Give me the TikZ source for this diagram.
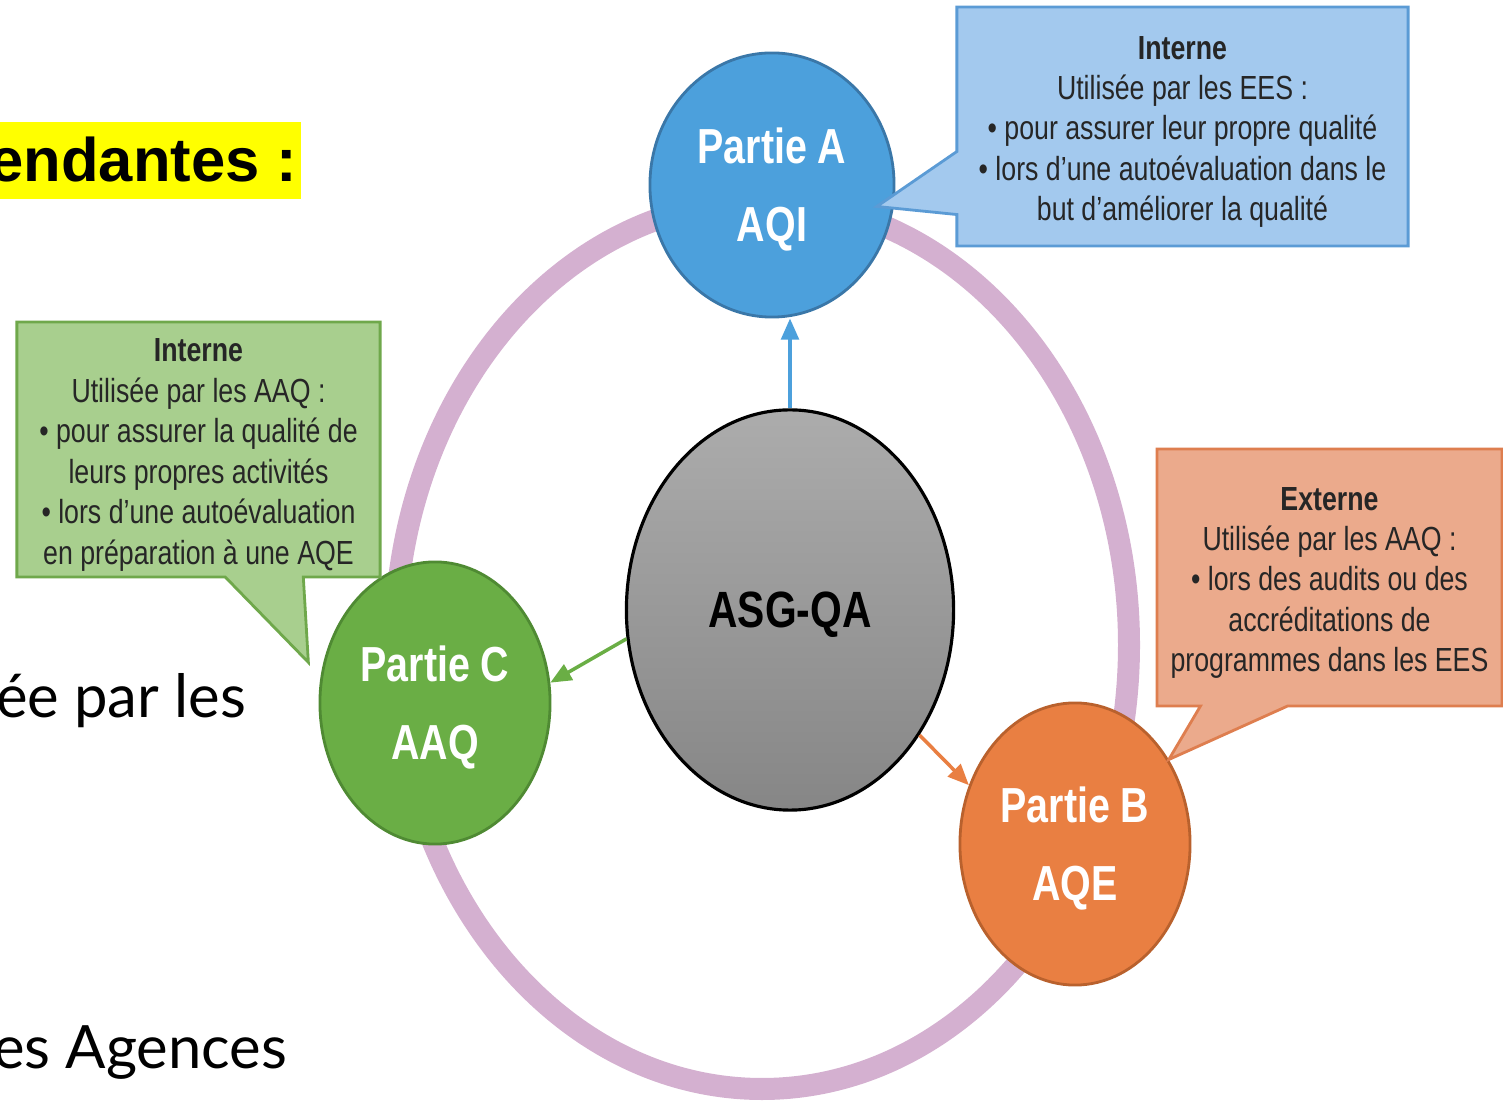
\documentclass[tikz,border=0pt]{standalone}
\usepackage{fontspec}
\setmainfont{Liberation Sans}
\newfontfamily\narrowfont[FakeStretch=0.8]{Liberation Sans}
\newfontfamily\slidefont{Lato}
\usetikzlibrary{shapes.geometric, shapes.callouts, arrows.meta}

\definecolor{hlyellow}{HTML}{FFFF00}
\definecolor{ringlilac}{HTML}{D4B0D0}
\definecolor{asgtop}{HTML}{ACACAC}
\definecolor{asgbottom}{HTML}{868686}
\definecolor{partblue}{HTML}{4CA0DC}
\definecolor{partblueline}{HTML}{3A77A8}
\definecolor{partgreen}{HTML}{6AAE45}
\definecolor{partgreenline}{HTML}{4F8A33}
\definecolor{partorange}{HTML}{E97F42}
\definecolor{partorangeline}{HTML}{B9612D}
\definecolor{noteblue}{HTML}{A3C9EE}
\definecolor{noteblueline}{HTML}{5B9BD5}
\definecolor{notegreen}{HTML}{A8CF8E}
\definecolor{notegreenline}{HTML}{6FA84B}
\definecolor{noteorange}{HTML}{EBAA8C}
\definecolor{noteorangeline}{HTML}{DE7E4F}
\definecolor{notetext}{HTML}{262626}

% struts that push the first line down a little
\newcommand{\notestrut}{\rule{0pt}{9.6pt}}
\newcommand{\partstrut}{\rule{0pt}{12.8pt}}

\begin{document}
\begin{tikzpicture}[
        x=0.01cm, y=-0.01cm,
        slide/.style={anchor=base east, inner sep=0pt},
        part/.style={ellipse, draw, line width=0.8pt, text=white, align=center, inner sep=0pt,
            font=\narrowfont\bfseries\fontsize{14}{22}\selectfont},
        note/.style={rectangle callout, draw, line width=0.8pt, align=center, inner sep=0pt,
            text=notetext, font=\narrowfont\fontsize{9.5}{11.5}\selectfont},
        link/.style={-{Triangle[length=6pt, width=5pt]}, line width=1pt}
    ]
        \useasboundingbox (0,0) rectangle (1503,1104);
        \clip (0,0) rectangle (1503,1104);

        % Slide text behind the diagram
        \fill[hlyellow] (0,122) rectangle (301,199);
        \node[slide, font=\bfseries\fontsize{17.5}{20}\selectfont] (title) at (298,182) {endantes :};
        \node[slide, font=\slidefont\fontsize{17}{20}\selectfont] (textA) at (247,718) {ée par les};
        \node[slide, font=\slidefont\fontsize{17}{20}\selectfont] (textB) at (288,1068) {es Agences};

        % Ring
        \draw[ringlilac, line width=0.22cm] (762,645) ellipse [x radius=367, y radius=444];

        % Center
        \node[ellipse, draw=black, line width=0.9pt, top color=asgtop, bottom color=asgbottom,
            minimum width=3.27cm, minimum height=4cm, inner sep=0pt,
            font=\narrowfont\bfseries\fontsize{14.5}{18}\selectfont] (asg) at (790,610) {\partstrut ASG-QA};

        % Parts on the ring
        \node[part, fill=partblue, draw=partblueline, minimum width=2.44cm, minimum height=2.64cm] (pA) at (772,185) {\partstrut Partie A\\AQI};
        \node[part, fill=partgreen, draw=partgreenline, minimum width=2.3cm, minimum height=2.82cm] (pC) at (435,703) {\partstrut Partie C\\AAQ};
        \node[part, fill=partorange, draw=partorangeline, minimum width=2.3cm, minimum height=2.82cm] (pB) at (1075,844) {\partstrut Partie B\\AQE};

        % Arrows
        \draw[link, partblue] (asg.north) -- (asg.north |- pA.south);
        \draw[link, partgreen] (asg.190) -- (pC.10);
        \draw[link, partorange] (asg.-44) -- (pB.151);

        % Callouts
        \node[note, fill=noteblue, draw=noteblueline, minimum width=4.51cm, minimum height=2.39cm,
            callout pointer width=0.63cm, callout absolute pointer={([xshift=-0.17cm]pA.-10)}] (noteA) at (1182.5,126.5)
            {\notestrut\textbf{Interne}\\Utilisée par les EES :\\• pour assurer leur propre qualité\\• lors d’une autoévaluation dans le\\but d’améliorer la qualité};
        \node[note, fill=notegreen, draw=notegreenline, minimum width=3.63cm, minimum height=2.55cm,
            callout pointer width=0.78cm, callout absolute pointer={([xshift=-0.15cm]pC.160)}] (noteC) at (198.5,449.5)
            {\notestrut\textbf{Interne}\\Utilisée par les AAQ :\\• pour assurer la qualité de\\leurs propres activités\\• lors d’une autoévaluation\\en préparation à une AQE};
        \node[note, fill=noteorange, draw=noteorangeline, minimum width=3.45cm, minimum height=2.57cm,
            callout pointer width=0.87cm, callout absolute pointer={(pB.42)}] (noteB) at (1329.5,577.5)
            {\notestrut\textbf{Externe}\\Utilisée par les AAQ :\\• lors des audits ou des\\accréditations de\\programmes dans les EES};
\end{tikzpicture}
\end{document}
